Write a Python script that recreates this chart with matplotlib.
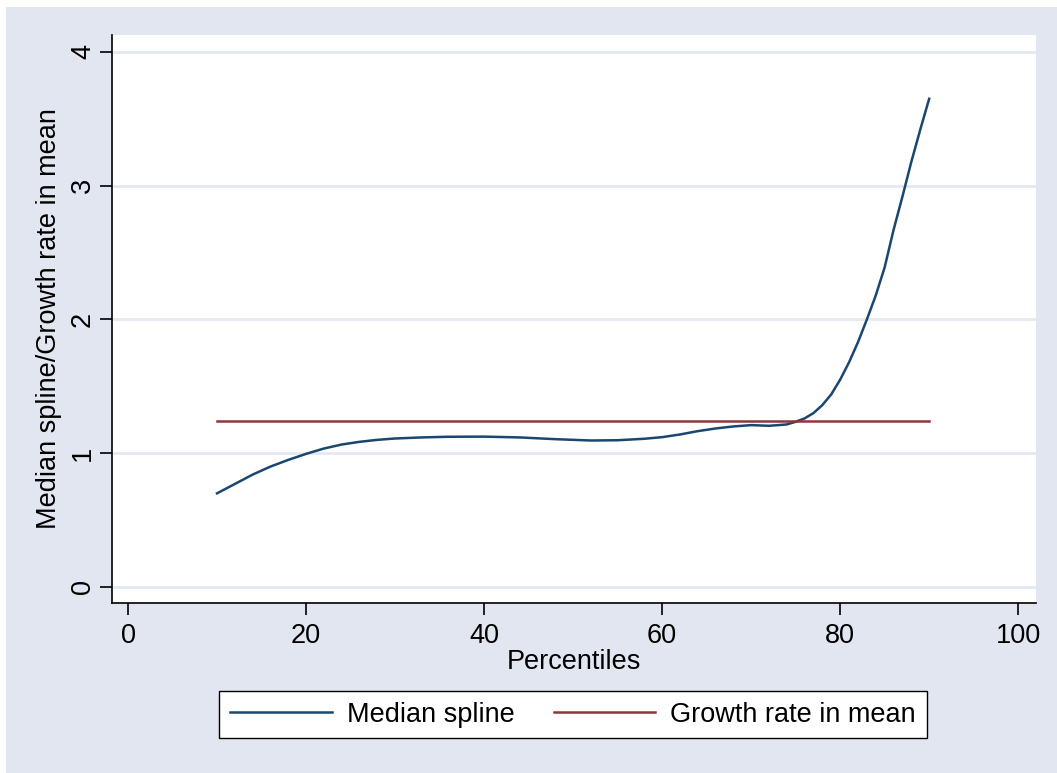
import matplotlib
matplotlib.use("Agg")
import matplotlib.pyplot as plt
from matplotlib.patches import Rectangle

plt.rcParams["font.family"] = ["Liberation Sans", "DejaVu Sans"]

# percentile grid and the median spline
percentiles = [10, 12, 14, 16, 18, 20, 22, 24, 26, 28, 30, 33, 36, 40, 44, 48,
               52, 55, 58, 60, 62, 64, 66, 68, 70, 72, 74, 75, 76, 77, 78, 79,
               80, 81, 82, 83, 84, 85, 86, 87, 88, 89, 90]
median_spline = [0.70, 0.77, 0.84, 0.90, 0.95, 0.995, 1.035, 1.065, 1.085, 1.10,
                 1.11, 1.118, 1.123, 1.124, 1.118, 1.105, 1.095, 1.097, 1.108,
                 1.12, 1.14, 1.165, 1.185, 1.20, 1.21, 1.205, 1.215, 1.235, 1.26,
                 1.30, 1.36, 1.44, 1.55, 1.68, 1.83, 2.0, 2.18, 2.39, 2.67, 2.92,
                 3.18, 3.42, 3.65]
growth_mean = 1.244
growth_span = [10, 90]

xticks = [0, 20, 40, 60, 80, 100]
yticks = [0, 1, 2, 3, 4]

BG = "#E1E6F0"
GRID = "#E4E8F1"
NAVY = "#1A476F"
RED = "#90353B"
FS = 19.5

W, H = 1057, 773
fig = plt.figure(figsize=(W / 100, H / 100), dpi=100, facecolor="white")
fig.patches.append(Rectangle((6 / W, 0), 1, 1 - 7 / H, transform=fig.transFigure,
                             facecolor=BG, edgecolor="none", zorder=-10))

ax = fig.add_axes([112 / W, 1 - 603 / H, (1036 - 112) / W, (603 - 35) / H])
ax.set_facecolor("white")

for y in yticks:
    ax.axhline(y, color=GRID, lw=2, zorder=0)

ax.plot(percentiles, median_spline, color=NAVY, lw=1.8, label="Median spline")
ax.plot(growth_span, [growth_mean, growth_mean], color=RED, lw=1.8,
        label="Growth rate in mean")

ax.set_xlim(-1.8, 102)
ax.set_ylim(-0.12, 4.127)
ax.set_xticks(xticks)
ax.set_yticks(yticks)
ax.tick_params(labelsize=FS, length=8.5, width=1.2)
ax.tick_params(axis="x", pad=6)
ax.tick_params(axis="y", pad=3)
for lab in ax.get_yticklabels():
    lab.set_rotation(90)
    lab.set_va("center")

for s in ["top", "right"]:
    ax.spines[s].set_visible(False)
for s in ["left", "bottom"]:
    ax.spines[s].set_linewidth(1.2)

ax.set_xlabel("Percentiles", fontsize=FS, labelpad=0)
ax.set_ylabel("Median spline/Growth rate in mean", fontsize=FS, labelpad=6)

handles, labels = ax.get_legend_handles_labels()
leg = fig.legend(handles, labels, loc="center", ncol=2,
                 bbox_to_anchor=(573 / W, 1 - 714.5 / H), fontsize=FS,
                 frameon=True, fancybox=False, edgecolor="black",
                 facecolor="white", framealpha=1,
                 handlelength=3.75, handletextpad=0.55, columnspacing=1.45,
                 borderpad=0.4)
leg.get_frame().set_linewidth(1.0)

fig.savefig("out.png", dpi=100, facecolor=fig.get_facecolor())
